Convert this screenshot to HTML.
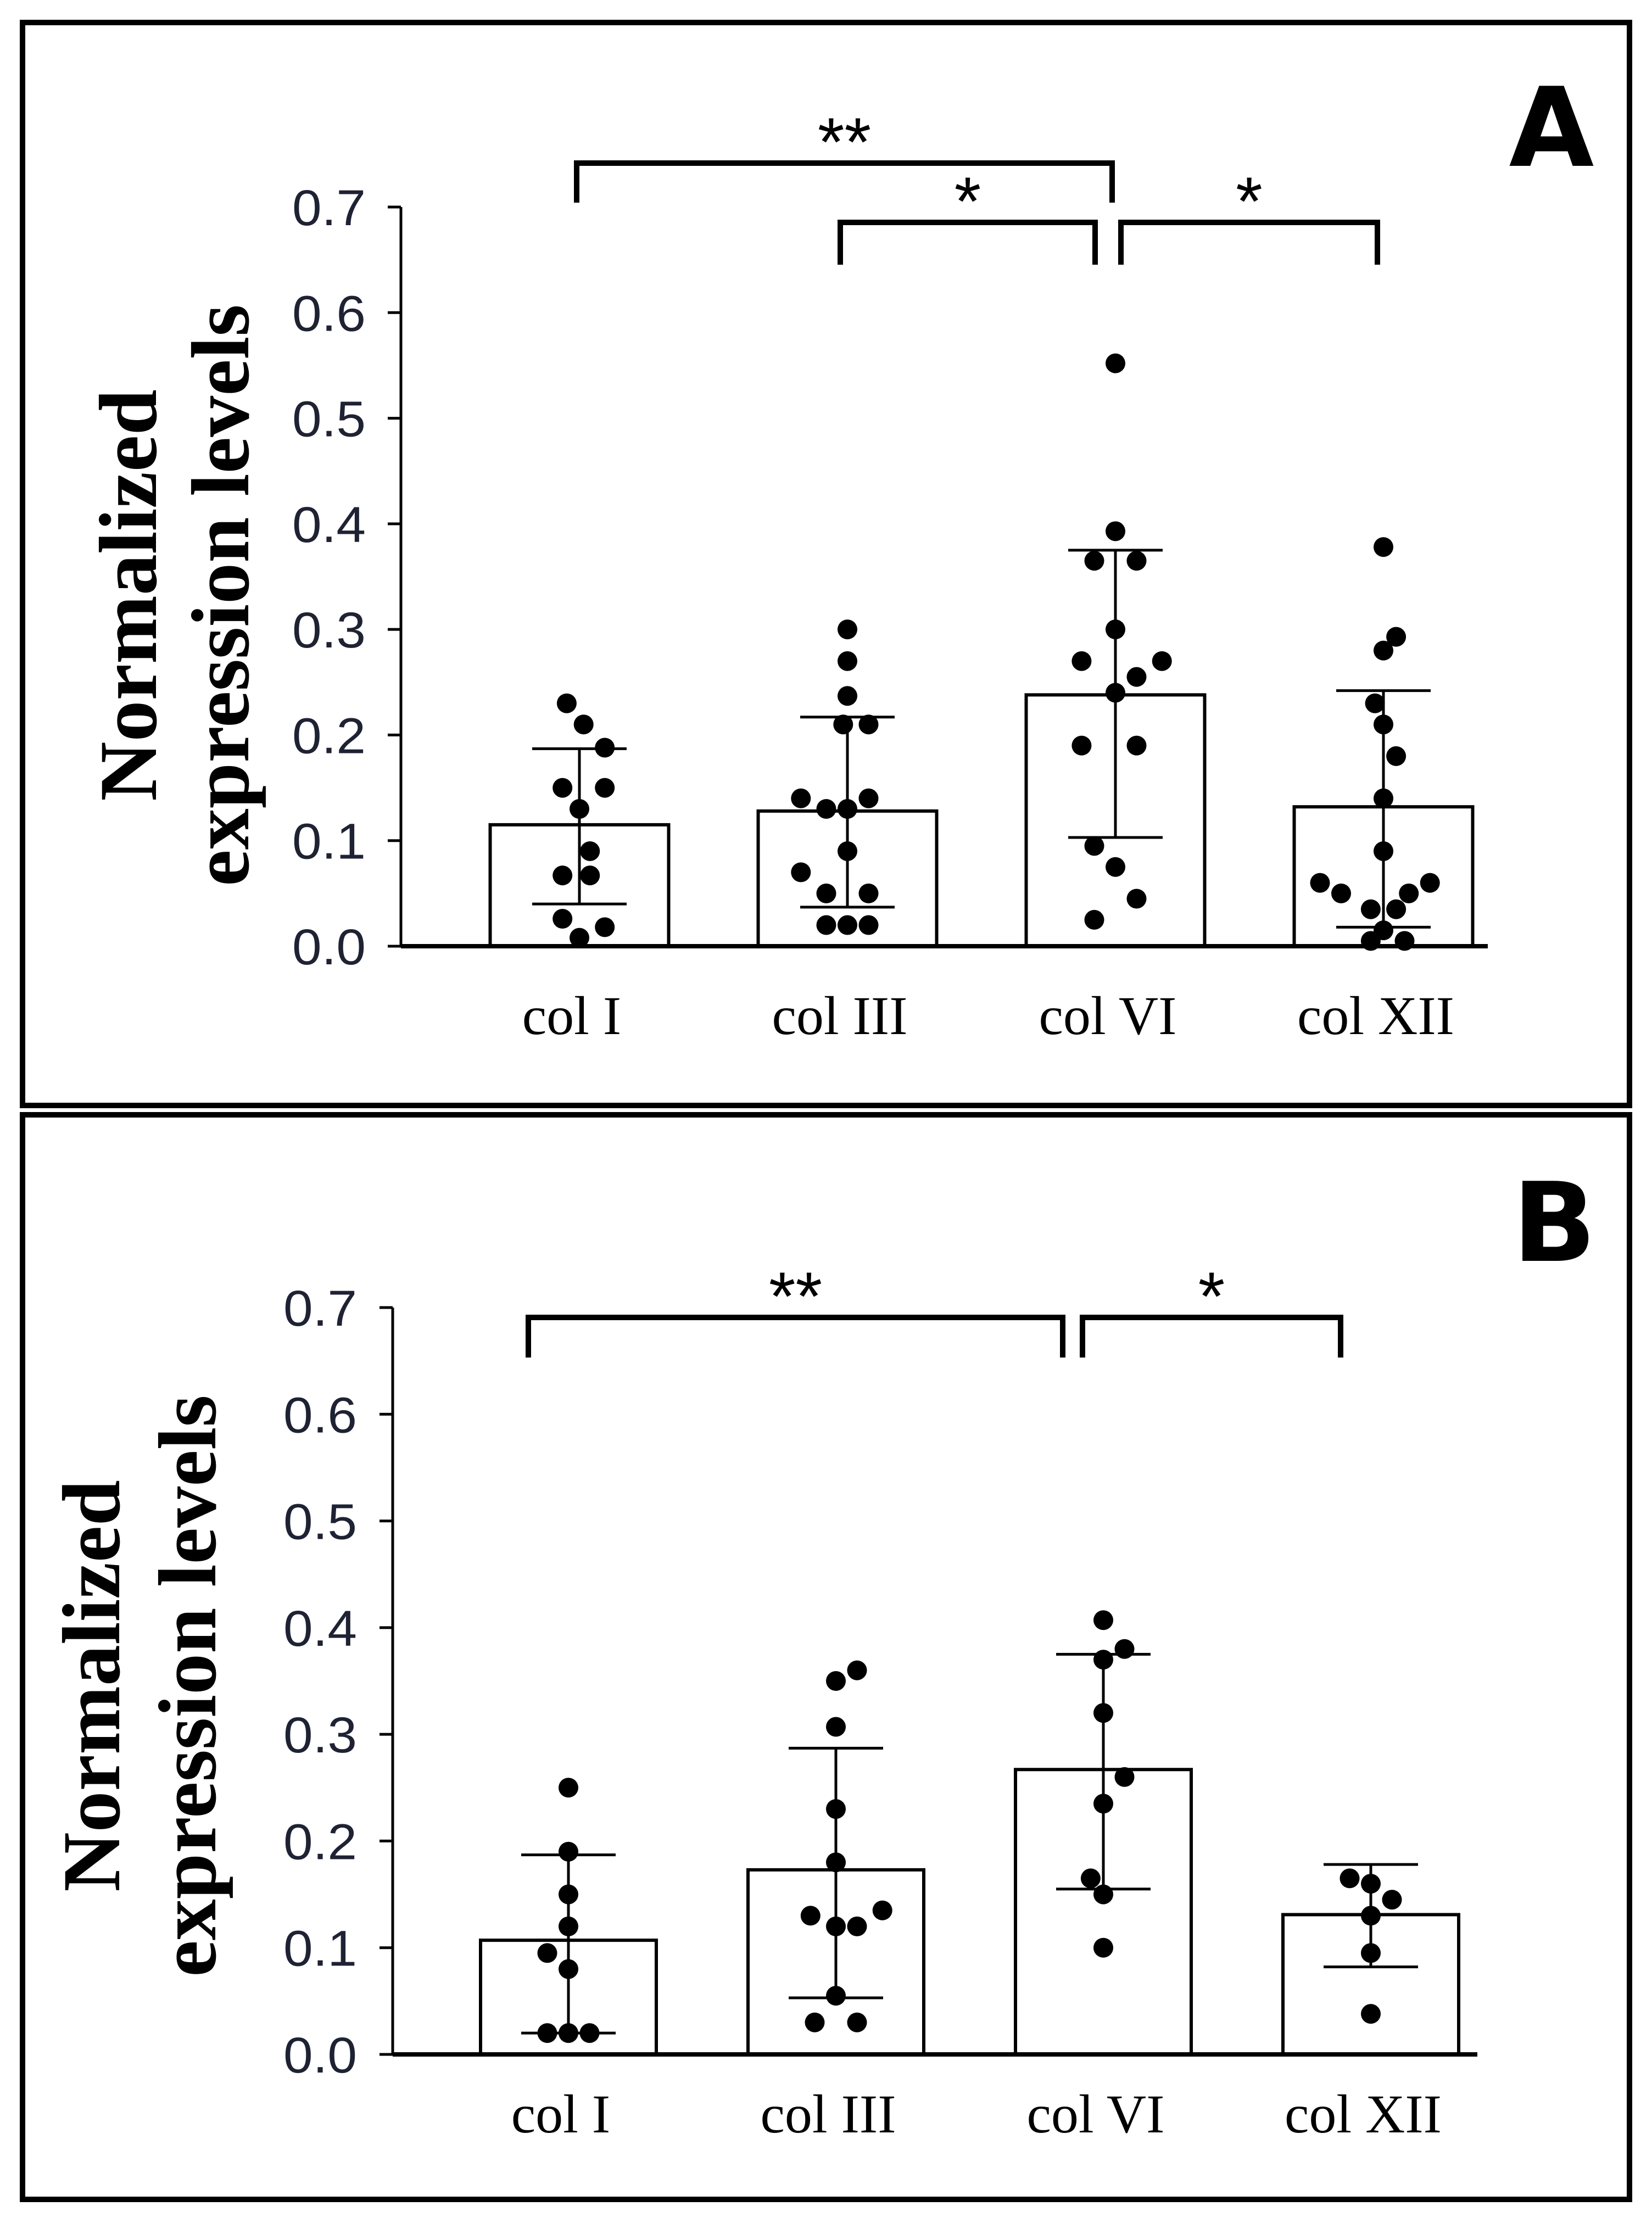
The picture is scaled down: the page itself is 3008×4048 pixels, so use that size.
<!DOCTYPE html>
<html><head><meta charset="utf-8"><style>
html,body{margin:0;padding:0;background:#fff;}
svg{display:block;}
</style></head><body>
<svg id="fig" xmlns="http://www.w3.org/2000/svg" width="3008" height="4048" viewBox="0 0 3008 4048">
<rect x="41" y="41" width="2926" height="1972" fill="none" stroke="#000" stroke-width="10"/>
<rect x="41" y="2030" width="2926" height="1975" fill="none" stroke="#000" stroke-width="10"/>
<text x="2825" y="302" font-family="DejaVu Sans, sans-serif" font-weight="bold" font-size="200" text-anchor="middle">A</text>
<text x="2830" y="2296" font-family="DejaVu Sans, sans-serif" font-weight="bold" font-size="200" text-anchor="middle">B</text>
<g id="gA"></g>
<g id="gB"></g>
</svg>
<script>
const categories = ["col I","col III","col VI","col XII"];
const ticks = [0,0.1,0.2,0.3,0.4,0.5,0.6,0.7];
const tickLabels = ["0.0","0.1","0.2","0.3","0.4","0.5","0.6","0.7"];
// Panel A
const meanA = [0.115,0.128,0.238,0.132];
const errLoA = [0.040,0.037,0.103,0.018];
const errHiA = [0.187,0.217,0.375,0.242];
const dotsA = [
 [[0.23,-0.3],[0.21,0.1],[0.188,0.6],[0.15,-0.4],[0.15,0.6],[0.13,0],[0.09,0.25],[0.067,-0.4],[0.067,0.25],[0.026,-0.4],[0.018,0.6],[0.008,0]],
 [[0.30,0],[0.27,0],[0.237,0],[0.21,-0.1],[0.21,0.5],[0.14,-1.1],[0.14,0.5],[0.13,-0.5],[0.13,0],[0.09,0],[0.07,-1.1],[0.05,-0.5],[0.05,0.5],[0.02,-0.5],[0.02,0],[0.02,0.5]],
 [[0.552,0],[0.393,0],[0.365,-0.5],[0.365,0.5],[0.30,0],[0.27,-0.8],[0.27,1.1],[0.255,0.5],[0.24,0],[0.19,-0.8],[0.19,0.5],[0.095,-0.5],[0.075,0],[0.045,0.5],[0.025,-0.5]],
 [[0.378,0],[0.293,0.3],[0.28,0],[0.23,-0.2],[0.21,0],[0.18,0.3],[0.14,0],[0.09,0],[0.06,-1.5],[0.06,1.1],[0.05,-1],[0.05,0.6],[0.035,-0.3],[0.035,0.3],[0.015,0],[0.005,-0.3],[0.005,0.5]]
];
const bracketsA = [[0,2,"**",0],[1,2,"*",1],[2,3,"*",2]];
// Panel B
const meanB = [0.107,0.173,0.267,0.131];
const errLoB = [0.020,0.053,0.155,0.082];
const errHiB = [0.187,0.287,0.375,0.178];
const dotsB = [
 [[0.25,0],[0.19,0],[0.15,0],[0.12,0],[0.095,-0.5],[0.08,0],[0.02,-0.5],[0.02,0],[0.02,0.5]],
 [[0.36,0.5],[0.35,0],[0.307,0],[0.23,0],[0.18,0],[0.135,1.1],[0.13,-0.6],[0.12,0],[0.12,0.5],[0.055,0],[0.03,-0.5],[0.03,0.5]],
 [[0.407,0],[0.38,0.5],[0.37,0],[0.32,0],[0.26,0.5],[0.235,0],[0.165,-0.3],[0.15,0],[0.10,0]],
 [[0.165,-0.5],[0.16,0],[0.145,0.5],[0.13,0],[0.095,0],[0.038,0]]
];
const bracketsB = [[0,2,"**",0],[2,3,"*",1]];

const NS="http://www.w3.org/2000/svg";
function mk(parent,tag,attrs,txt){const e=document.createElementNS(NS,tag);for(const k in attrs)e.setAttribute(k,attrs[k]);if(txt!==undefined)e.textContent=txt;parent.appendChild(e);return e;}

function drawPanel(g,cfg,mean,lo,hi,dots,brackets){
  const y=v=>cfg.y0-v*(cfg.y0-cfg.y7)/0.7;
  const x=i=>cfg.cx0+i*cfg.step;
  let t=mk(g,'text',{x:0,y:0,transform:`translate(${cfg.t1x},${cfg.ty}) rotate(-90)`,'font-family':'Liberation Serif, serif','font-weight':'bold','font-size':150,'text-anchor':'middle'},'Normalized');
  
  
  t=mk(g,'text',{x:0,y:0,transform:`translate(${cfg.t2x},${cfg.ty}) rotate(-90)`,'font-family':'Liberation Serif, serif','font-weight':'bold','font-size':150,'text-anchor':'middle'},'expression levels');
  
  
  categories.forEach((c,i)=>{
    const r=mk(g,'rect',{x:x(i)-cfg.bw/2,y:y(mean[i]),width:cfg.bw,height:y(0)-y(mean[i]),fill:'#fff',stroke:'#000','stroke-width':6});
    
    
  });
  dots.forEach((arr,i)=>arr.forEach(d=>{
    const c=mk(g,'circle',{cx:x(i)+d[1]*77,cy:y(d[0]),r:18,fill:'#000'});
    
    
  }));
  categories.forEach((c,i)=>{
    const eg=mk(g,'g',{stroke:'#000','stroke-width':5});
    
    
    mk(eg,'line',{x1:x(i),x2:x(i),y1:y(lo[i]),y2:y(hi[i])});
    mk(eg,'line',{x1:x(i)-86,x2:x(i)+86,y1:y(lo[i]),y2:y(lo[i])});
    mk(eg,'line',{x1:x(i)-86,x2:x(i)+86,y1:y(hi[i]),y2:y(hi[i])});
  });
  let a=mk(g,'line',{x1:cfg.ax,x2:cfg.ax,y1:y(0.7),y2:y(0),stroke:'#000','stroke-width':5});
  
  
  a=mk(g,'line',{x1:cfg.ax,x2:cfg.axEnd,y1:y(0),y2:y(0),stroke:'#000','stroke-width':8});
  
  
  ticks.forEach((v,k)=>{
    mk(g,'line',{x1:cfg.ax-24,x2:cfg.ax,y1:y(v),y2:y(v),stroke:'#000','stroke-width':5});
    const tl=mk(g,'text',{x:cfg.tlx,y:y(v)+33,'font-family':'Liberation Sans, sans-serif','font-size':92,'text-anchor':'end',fill:'#1e2233',textLength:134,lengthAdjust:'spacingAndGlyphs'},tickLabels[k]);
    
    
  });
  categories.forEach((c,i)=>{
    const l=mk(g,'text',{x:x(i)-14,y:cfg.ly,'font-family':'Liberation Serif, serif','font-size':100,'text-anchor':'middle'},c);
    
    
  });
  brackets.forEach(b=>{
    const L=cfg.br[b[3]];
    const bg=mk(g,'g',{});
    
    
    mk(bg,'path',{d:`M${L[0]},${L[3]} V${L[2]} H${L[1]} V${L[3]}`,fill:'none',stroke:'#000','stroke-width':10});
    mk(bg,'text',{x:(L[0]+L[1])/2,y:L[2]+5,'font-family':'Liberation Sans, sans-serif','font-size':125,'text-anchor':'middle'},b[2]);
  });
}
drawPanel(document.getElementById('gA'),{y0:1723,y7:377,cx0:1055,step:488,bw:325,ax:730,axEnd:2709,tlx:666,ly:1883,t1x:284,t2x:452,ty:1084,
  br:[[1050,2025,297,369],[1530,1994,405,482],[2041,2508,405,482]]},meanA,errLoA,errHiA,dotsA,bracketsA);
drawPanel(document.getElementById('gB'),{y0:3741,y7:2381,cx0:1035,step:487,bw:320,ax:715,axEnd:2690,tlx:650,ly:3883,t1x:217,t2x:392,ty:3070,
  br:[[962,1935,2399,2472],[1971,2441,2399,2472]]},meanB,errLoB,errHiB,dotsB,bracketsB);
</script>
</body></html>
